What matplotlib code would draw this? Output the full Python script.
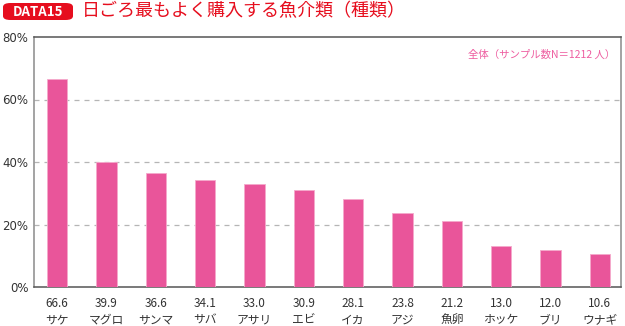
import matplotlib
matplotlib.use('Agg')

import matplotlib.pyplot as plt
from matplotlib.patches import FancyBboxPatch

plt.rcParams['font.family'] = ['Noto Sans CJK JP', 'DejaVu Sans']

# Data
categories = ["サケ", "マグロ", "サンマ", "サバ", "アサリ", "エビ",
              "イカ", "アジ", "魚卵", "ホッケ", "ブリ", "ウナギ"]
values = [66.6, 39.9, 36.6, 34.1, 33.0, 30.9, 28.1, 23.8, 21.2, 13.0, 12.0, 10.6]
y_ticks = [0, 20, 40, 60, 80]

BAR_COLOR = "#E9559A"
TEXT_COLOR = "#333333"
RED = "#E60E1E"

W, H = 625, 326
fig = plt.figure(figsize=(W / 100, H / 100), dpi=100)
fig.patch.set_facecolor("white")

# Plot area in pixel units
left, right, bottom, top = 34, 621, 287, 37
ax = fig.add_axes([left / W, 1 - bottom / H, (right - left) / W, (bottom - top) / H])

x = list(range(len(categories)))
ax.bar(x, values, width=0.41, color=BAR_COLOR, edgecolor="#F5A9CB", linewidth=0.6, zorder=3)

ax.set_xlim(-0.47, 11.43)
ax.set_ylim(0, 80)
ax.set_yticks(y_ticks)
ax.set_yticklabels([f"{t}%" for t in y_ticks], fontsize=8.5, color=TEXT_COLOR,
                   family=['DejaVu Sans'])
ax.tick_params(axis='y', length=0, pad=4)

ax.set_xticks(x)
ax.set_xticklabels([f"{v:.1f}\n{c}" for v, c in zip(values, categories)],
                   fontsize=8.5, color=TEXT_COLOR, linespacing=1.35)
ax.tick_params(axis='x', length=0, pad=7)

# Dashed gridlines for intermediate levels
for t in y_ticks[1:-1]:
    ax.axhline(t, color="#B5B5B5", linestyle=(0, (4, 4)), linewidth=0.9, zorder=1)

ax.spines['top'].set_color("#555555")
ax.spines['bottom'].set_color("#555555")
ax.spines['left'].set_color("#8A8A8A")
ax.spines['right'].set_color("#8A8A8A")
for s in ax.spines.values():
    s.set_linewidth(1.1)

ax.text(0.99, 0.93, "全体（サンプル数N＝1212 人）", transform=ax.transAxes,
        ha='right', va='center', fontsize=7.5, color="#EE5DA0")

# Header badge and title
badge = FancyBboxPatch((3 / W, 1 - 20 / H), 70 / W, 17 / H,
                       boxstyle="round,pad=0,rounding_size=0.012",
                       transform=fig.transFigure, facecolor=RED, edgecolor="none")
fig.patches.append(badge)
fig.text(38 / W, 1 - 11.5 / H, "DATA15", ha='center', va='center',
         fontsize=9.5, color="white", fontweight='bold')
fig.text(82 / W, 1 - 11.5 / H, "日ごろ最もよく購入する魚介類（種類）",
         ha='left', va='center', fontsize=13, color=RED)

fig.savefig("out.png", dpi=100, facecolor="white")
